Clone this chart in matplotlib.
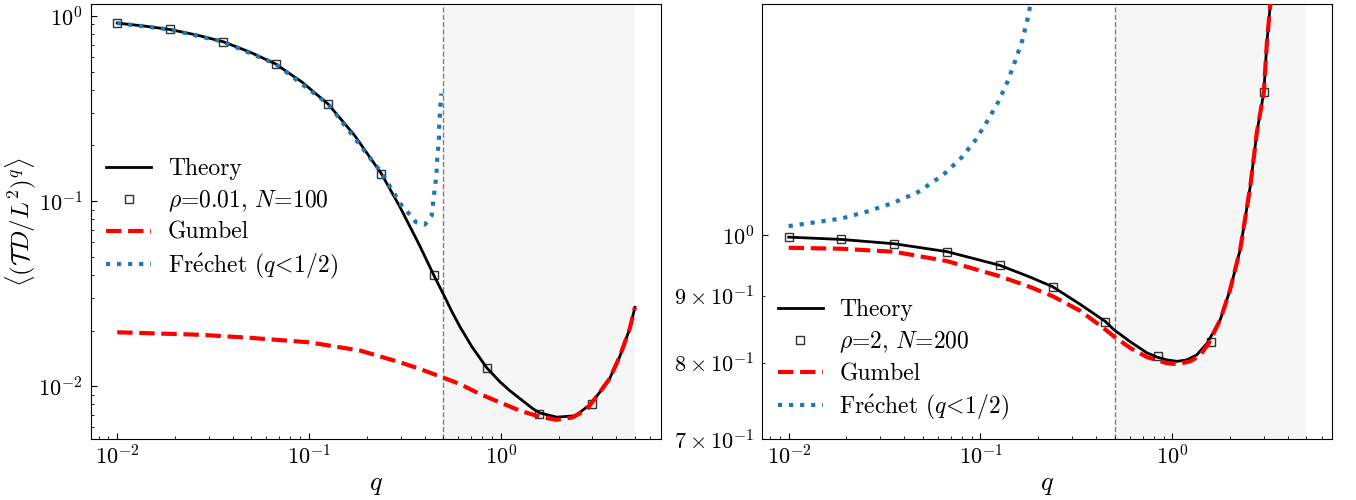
import matplotlib
matplotlib.use("Agg")
import matplotlib.pyplot as plt

plt.rcParams['font.family'] = ['cmr10', 'DejaVu Serif']
plt.rcParams['mathtext.fontset'] = 'cm'
plt.rcParams['axes.formatter.use_mathtext'] = True
plt.rcParams['axes.unicode_minus'] = False

# simulation points (same q grid in both panels)
q_sim = [0.01, 0.0188, 0.0355, 0.0669, 0.126, 0.238, 0.448, 0.845, 1.59, 3.0]
sim_a = [0.915, 0.845, 0.727, 0.551, 0.334, 0.141, 0.0397, 0.0125, 0.0071, 0.0080]
sim_b = [0.997, 0.993, 0.9855, 0.972, 0.949, 0.914, 0.860, 0.810, 0.830, 1.285]

# panel a: rho = 0.01, N = 100
q_th_a = [0.01, 0.0137, 0.0188, 0.0258, 0.0355, 0.0487, 0.0669, 0.0918, 0.126, 0.173,
          0.238, 0.298, 0.366, 0.38, 0.448, 0.5, 0.556, 0.612, 0.706, 0.845,
          0.988, 1.114, 1.468, 1.59, 1.958, 2.43, 2.58, 2.91, 3.28, 3.69,
          4.17, 4.7, 5.0]
th_a = [0.915, 0.883, 0.845, 0.79, 0.727, 0.641, 0.551, 0.44, 0.334, 0.226,
        0.141, 0.093, 0.0613, 0.0567, 0.0397, 0.0317, 0.0253, 0.0210, 0.0164, 0.0126,
        0.0106, 0.00948, 0.00758, 0.0072, 0.00682, 0.00694, 0.00724, 0.00796, 0.0093, 0.0110,
        0.0145, 0.0205, 0.0267]

q_gu_a = [0.01, 0.027, 0.049, 0.1, 0.185, 0.298, 0.379, 0.495, 0.612, 0.777,
          0.988, 1.256, 1.596, 1.95, 2.37, 2.8, 3.28, 3.69, 4.17, 4.7, 5.0]
gu_a = [0.0196, 0.019, 0.0183, 0.0173, 0.0156, 0.01349, 0.01242, 0.0112, 0.0103, 0.0091,
        0.0082, 0.0074, 0.00686, 0.0066, 0.0068, 0.0075, 0.0093, 0.0110, 0.0145, 0.0205, 0.0267]

q_fr_a = [0.01, 0.0188, 0.0355, 0.0669, 0.126, 0.238, 0.304, 0.329, 0.361, 0.402,
          0.436, 0.444, 0.449, 0.457, 0.463, 0.466, 0.472, 0.476, 0.477, 0.481,
          0.485, 0.489]
fr_a = [0.915, 0.845, 0.727, 0.551, 0.334, 0.143, 0.0948, 0.0865, 0.077, 0.0748,
        0.0837, 0.0988, 0.1096, 0.1268, 0.1466, 0.1694, 0.196, 0.222, 0.251, 0.29,
        0.336, 0.381]

# panel b: rho = 2, N = 200
q_th_b = [0.01, 0.0188, 0.0355, 0.0669, 0.126, 0.18, 0.238, 0.332, 0.448, 0.495,
          0.604, 0.738, 0.832, 0.938, 1.06, 1.19, 1.34, 1.52, 1.78, 2.0,
          2.26, 2.55, 2.76, 3.0, 3.11, 3.27, 3.5]
th_b = [0.997, 0.993, 0.9855, 0.972, 0.949, 0.930, 0.914, 0.886, 0.860, 0.848,
        0.830, 0.814, 0.808, 0.804, 0.802, 0.804, 0.811, 0.828, 0.863, 0.909,
        0.976, 1.09, 1.198, 1.285, 1.40, 1.52, 1.75]

q_gu_b = [0.01, 0.0188, 0.0355, 0.0669, 0.126, 0.18, 0.238, 0.332, 0.448, 0.495,
          0.604, 0.738, 0.938, 1.06, 1.24, 1.40, 1.55, 1.78, 2.0, 2.26,
          2.55, 2.76, 3.0, 3.11, 3.27, 3.5]
gu_b = [0.9786, 0.9769, 0.9718, 0.956, 0.931, 0.914, 0.899, 0.876, 0.848, 0.838,
        0.821, 0.808, 0.7994, 0.798, 0.802, 0.811, 0.828, 0.863, 0.909, 0.976,
        1.09, 1.198, 1.285, 1.40, 1.52, 1.75]

q_fr_b = [0.01, 0.0188, 0.0258, 0.0353, 0.0473, 0.059, 0.0657, 0.0796, 0.0942, 0.109,
          0.124, 0.138, 0.152, 0.165, 0.177, 0.181, 0.2]
fr_b = [1.0165, 1.030, 1.043, 1.059, 1.079, 1.103, 1.116, 1.146, 1.182, 1.223,
        1.264, 1.308, 1.359, 1.407, 1.466, 1.492, 1.6]

panels = [
    (q_th_a, th_a, q_gu_a, gu_a, q_fr_a, fr_a, sim_a, r'$\rho$=0.01, $N$=100', (0.0052, 1.16)),
    (q_th_b, th_b, q_gu_b, gu_b, q_fr_b, fr_b, sim_b, r'$\rho$=2, $N$=200', (0.7, 1.5)),
]

fig, axes = plt.subplots(1, 2, figsize=(13.56, 5), dpi=100)
fig.subplots_adjust(left=0.0671, right=0.9823, bottom=0.122, top=0.992, wspace=0.179)

for i, (ax, p) in enumerate(zip(axes, panels)):
    qt, t, qg, g, qf, f, sim, simlab, ylim = p
    ax.axvspan(0.5, 5, color='#f6f6f6', zorder=0, lw=0)
    ax.axvline(0.5, color='gray', ls='--', lw=1, zorder=1)
    ax.plot(q_sim, sim, 's', ms=5.5, mfc='none', mec='#333333', mew=1.0,
            ls='none', label=simlab, zorder=2)
    ax.plot(qt, t, color='k', lw=2, label='Theory', zorder=3)
    ax.plot(qg, g, color='red', ls='--', lw=3, label='Gumbel', zorder=4)
    ax.plot(qf, f, color='#1f77b4', ls=':', lw=3,
            label=r"$\mathrm{Fr\'{e}chet}$ $(q\!<\!1/2)$", zorder=5)
    ax.set_xscale('log')
    ax.set_yscale('log')
    ax.set_xlim(0.0073, 6.8)
    ax.set_ylim(*ylim)
    ax.set_xlabel(r'$q$', fontsize=19)
    ax.tick_params(which='both', direction='in', labelsize=16,
                   top=False, right=False)
    ax.tick_params(axis='y', which='both', pad=6)
    ax.tick_params(which='major', length=4)
    ax.tick_params(which='minor', length=2.5)

    h, l = ax.get_legend_handles_labels()
    order = [1, 0, 2, 3]
    anchor = (0, 0.505) if i == 0 else (0, 0.18)
    ax.legend([h[k] for k in order], [l[k] for k in order], loc='center left',
              bbox_to_anchor=anchor, frameon=False, fontsize=17,
              labelspacing=0.34, handlelength=1.9, handletextpad=0.7,
              borderaxespad=0.25)

axes[0].set_ylabel(r'$\langle (\mathcal{T}D/L^2)^q \rangle$', fontsize=18, labelpad=0)

fig.savefig('out.png', dpi=100)
